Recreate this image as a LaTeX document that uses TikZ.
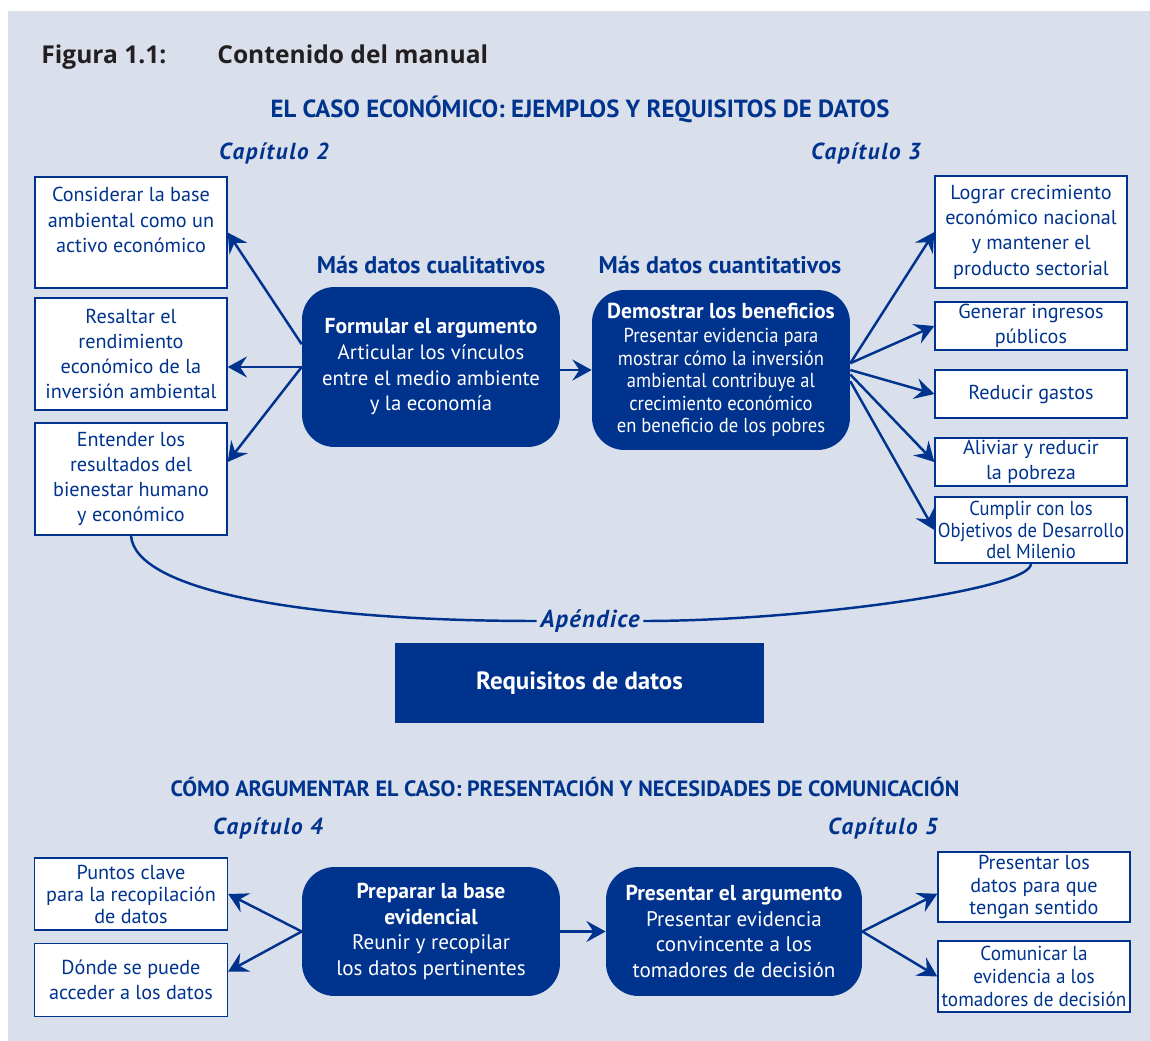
\documentclass[tikz,border=0pt]{standalone}
\usepackage{fontspec}
\setmainfont{PT Sans}
\newfontfamily\titlefont{Open Sans}
\usetikzlibrary{arrows.meta,calc}
\definecolor{ManualBlue}{HTML}{00338D}
\definecolor{PanelGrey}{HTML}{D9E0EC}
\definecolor{TitleGrey}{HTML}{231F20}
\newcommand{\condensed}{\addfontfeature{FakeStretch=0.92}}
\newcommand{\boxtitle}[1]{{\bfseries\fontsize{12.3}{14.6}\selectfont #1}}

\tikzset{
  whitebox/.style={draw=ManualBlue, line width=0.8pt, fill=white, text=ManualBlue,
    align=center, inner sep=0pt, font=\fontsize{11.5}{14.4}\selectfont},
  darkbox/.style={fill=ManualBlue, rounded corners=0.65cm, text=white, align=center,
    inner sep=0pt, minimum width=5.16cm, minimum height=3.2cm,
    font=\fontsize{11.8}{14.6}\selectfont},
  header/.style={text=ManualBlue, font=\bfseries\fontsize{13.7}{16}\selectfont},
  chapter/.style={text=ManualBlue, font=\bfseries\itshape\fontsize{13.2}{15}\selectfont\addfontfeature{LetterSpace=7}},
  link/.style={ManualBlue, line width=1.4pt, -{Stealth[length=11pt,width=12pt,inset=4pt]}},
}

\begin{document}
\begin{tikzpicture}[x=0.02cm, y=-0.02cm]
  \useasboundingbox (0,0) rectangle (1150,1041);
  \fill[PanelGrey] (8,11) rectangle (1150,1041);

  % title
  \node[anchor=base west, inner sep=0pt, text=TitleGrey, font=\titlefont\bfseries\fontsize{14}{16}\selectfont] (fig) at (41,63) {Figura 1.1:};
  \node[anchor=base west, inner sep=0pt, text=TitleGrey, font=\titlefont\bfseries\fontsize{14}{16}\selectfont] (titulo) at (217,63) {Contenido del manual};

  % upper part
  \node[header, font=\bfseries\fontsize{14.1}{16}\selectfont] (caso) at (580,109) {EL CASO ECONÓMICO: EJEMPLOS Y REQUISITOS DE DATOS};
  \node[chapter] (cap2) at (274,153) {Capítulo 2};
  \node[chapter] (cap3) at (866,153) {Capítulo 3};
  \node[header] (cuali) at (431,265) {Más datos cualitativos};
  \node[header] (cuanti) at (720,265) {Más datos cuantitativos};

  \node[whitebox, minimum width=3.84cm, minimum height=2.22cm] (consid) at (131,232.5)
    {Considerar la base\\ambiental como un\\activo económico\\ \mbox{}};
  \node[whitebox, minimum width=3.84cm, minimum height=2.24cm] (resaltar) at (131,354)
    {Resaltar el\\rendimiento\\económico de la\\inversión ambiental};
  \node[whitebox, minimum width=3.84cm, minimum height=2.24cm] (entender) at (131,479)
    {Entender los\\resultados del\\bienestar humano\\y económico};

  \node[darkbox] (form) at (431,367)
    {\boxtitle{Formular el argumento}\\Articular los vínculos\\entre el medio ambiente\\y la economía};
  \node[darkbox, font=\fontsize{11.5}{12.8}\selectfont] (dem) at (721,370)
    {\boxtitle{Demostrar los beneficios}\\[1pt]{\condensed Presentar evidencia para}\\{\condensed mostrar cómo la inversión}\\{\condensed ambiental contribuye al}\\{\condensed crecimiento económico}\\{\condensed en beneficio de los pobres}};

  \node[whitebox, minimum width=3.84cm, minimum height=2.24cm] (lograr) at (1031,232)
    {Lograr crecimiento\\económico nacional\\y mantener el\\producto sectorial};
  \node[whitebox, minimum width=3.84cm, minimum height=0.96cm] (generar) at (1031,326)
    {Generar ingresos\\públicos};
  \node[whitebox, minimum width=3.84cm, minimum height=0.96cm] (reducir) at (1031,394)
    {Reducir gastos};
  \node[whitebox, minimum width=3.84cm, minimum height=0.96cm] (aliviar) at (1031,462)
    {Aliviar y reducir\\la pobreza};
  \node[whitebox, minimum width=3.84cm, minimum height=1.32cm, font=\fontsize{11.5}{12.2}\selectfont\condensed] (cumplir) at (1031,530)
    {Cumplir con los\\Objetivos de Desarrollo\\del Milenio};

  \draw[link] (form.west) -- (form.west -| resaltar.east);
  \draw[link] (form.170) -- (consid.east);
  \draw[link] (form.west) -- (entender.10);
  \draw[link] (form.east |- dem.west) -- (dem.west);
  \draw[link] (dem.3) -- (lograr.west);
  \draw[link] (dem.3) -- (generar.west);
  \draw[link] (dem.east) -- (reducir.west);
  \draw[link] (dem.-2) -- (aliviar.west);
  \draw[link] (dem.-5) -- (cumplir.west);

  % appendix
  \node[text=ManualBlue, inner sep=2pt, font=\bfseries\itshape\fontsize{14}{16}\selectfont\addfontfeature{LetterSpace=5}] (apendice) at (590,621) {Apéndice};
  \draw[ManualBlue, line width=1.4pt] (entender.south) .. controls (135,590) and (300,621) .. (apendice.west);
  \draw[ManualBlue, line width=1.4pt] (apendice.east) .. controls (800,621) and (1031,590) .. (cumplir.south);
  \node[fill=ManualBlue, text=white, minimum width=7.38cm, minimum height=1.6cm, font=\bfseries\fontsize{14.2}{16}\selectfont] (requisitos) at (579.5,683) {Requisitos de datos};

  % lower part
  \node[header, font=\bfseries\fontsize{12.6}{15}\selectfont] (argumentar) at (565,787) {CÓMO ARGUMENTAR EL CASO: PRESENTACIÓN Y NECESIDADES DE COMUNICACIÓN};
  \node[chapter] (cap4) at (268,828) {Capítulo 4};
  \node[chapter] (cap5) at (883,828) {Capítulo 5};

  \node[whitebox, minimum width=3.86cm, minimum height=1.44cm, font=\fontsize{11.5}{12.5}\selectfont] (puntos) at (131,894)
    {Puntos clave\\para la recopilación\\de datos};
  \node[whitebox, minimum width=3.86cm, minimum height=1.46cm] (donde) at (131,980)
    {Dónde se puede\\acceder a los datos};
  \node[darkbox, minimum height=2.58cm, font=\fontsize{12}{14.6}\selectfont] (prep) at (431,931.5)
    {\boxtitle{Preparar la base}\\\boxtitle{evidencial}\\Reunir y recopilar\\los datos pertinentes};
  \node[darkbox, minimum width=5.12cm, minimum height=2.58cm, font=\fontsize{12}{14.6}\selectfont] (pres) at (734,931.5)
    {\boxtitle{Presentar el argumento}\\Presentar evidencia\\convincente a los\\tomadores de decisión};
  \node[whitebox, minimum width=3.84cm, minimum height=1.4cm, font=\fontsize{11.5}{12.8}\selectfont] (datos) at (1034,887)
    {Presentar los\\datos para que\\tengan sentido};
  \node[whitebox, minimum width=3.84cm, minimum height=1.42cm, font=\fontsize{11.5}{13}\selectfont\addfontfeature{FakeStretch=0.95}] (comunicar) at (1034,976.5)
    {Comunicar la\\evidencia a los\\tomadores de decisión};

  \draw[link] (prep.west) -- (puntos.east);
  \draw[link] (prep.west) -- (donde.5);
  \draw[link] (prep.east) -- (pres.west);
  \draw[link] (pres.east) -- (datos.184);
  \draw[link] (pres.east) -- (comunicar.west);
\end{tikzpicture}
\end{document}
